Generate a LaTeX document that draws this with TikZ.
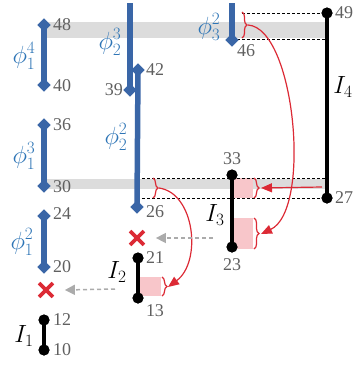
\documentclass[tikz,border=0pt]{standalone}
\usepackage{fontspec}
\newfontfamily\numfont{Liberation Serif}
\usetikzlibrary{decorations.pathreplacing,arrows.meta,shapes.geometric,shapes.misc}
\definecolor{phiblue}{HTML}{3A66A7}
\definecolor{lblblue}{HTML}{2E75B6}
\definecolor{numgray}{HTML}{606060}
\definecolor{bandgray}{HTML}{DCDCDC}
\definecolor{pinkc}{HTML}{F8C6CA}
\definecolor{redc}{HTML}{DC2A35}
\definecolor{arrgray}{HTML}{ABABAB}
\begin{document}
\begin{tikzpicture}[x=1pt,y=-1pt,
  bluebar/.style={draw=phiblue,line width=5.5pt},
  dia/.style={diamond,fill=phiblue,inner sep=0pt,minimum size=13pt},
  dot/.style={circle,fill=black,inner sep=0pt,minimum size=11pt},
  blackbar/.style={draw=black,line width=3.5pt},
  num/.style={text=numgray,font=\numfont\fontsize{18}{20}\selectfont,inner sep=1pt},
  philab/.style={text=lblblue,font=\fontsize{24}{26}\selectfont,inner sep=0pt},
  ilab/.style={font=\fontsize{23}{25}\selectfont,inner sep=0pt},
  dline/.style={draw=black,line width=0.7pt,dash pattern=on 3pt off 2pt},
  band/.style={fill=bandgray},
  pinkbox/.style={fill=pinkc},
  rbrace/.style={draw=redc,line width=1.2pt,decorate,decoration={brace,amplitude=5pt}},
  redarrow/.style={draw=redc,line width=1.2pt,-{Triangle[length=11pt,width=9pt]}},
  grayarrow/.style={draw=arrgray,line width=1.5pt,dash pattern=on 4pt off 3pt,-{Triangle[length=10pt,width=10pt]}},
  xmark/.style={cross out,draw=redc,line width=3.8pt,minimum size=10pt,inner sep=0pt}]
\useasboundingbox (0,0) rectangle (356,365);
% bands
\fill[band] (44,22) rectangle (327,38);
\fill[band] (44,179) rectangle (327,189);
% pink boxes
\fill[pinkbox] (234,178) rectangle (253,198);
\fill[pinkbox] (234,218) rectangle (253,249);
\fill[pinkbox] (140,277) rectangle (161,296);
% coordinates
\coordinate (p23top) at (130,3);
\coordinate (p32top) at (232,3);
\coordinate (d49s) at (242,13);
\coordinate (d46s) at (237,39);
\coordinate (d46e) at (327,39);
\coordinate (d33s) at (142,178);
\coordinate (d33e) at (327,178);
\coordinate (d27s) at (142,198);
% nodes
\node[dia] (a48) at (44,25) {};
\node[dia] (a40) at (44,85) {};
\node[dia] (a36) at (44,125) {};
\node[dia] (a30) at (44,186) {};
\node[dia] (a24) at (44,216) {};
\node[dia] (a20) at (44,267) {};
\node[dia] (b39) at (130,90) {};
\node[dia] (b42) at (138,70) {};
\node[dia] (b26) at (137,207) {};
\node[dia] (c46) at (232,40) {};
\node[dot] (i49) at (327,13) {};
\node[dot] (i27) at (327,198) {};
\node[dot] (i33) at (232,175) {};
\node[dot] (i23) at (232,247) {};
\node[dot] (i21) at (138,258) {};
\node[dot] (i13) at (138,298) {};
\node[dot] (i12) at (44,320) {};
\node[dot] (i10) at (44,350) {};
% dashed lines
\draw[dline] (d49s) -- (i49);
\draw[dline] (d46s) -- (d46e);
\draw[dline] (d33s) -- (d33e);
\draw[dline] (d27s) -- (i27);
% bars
\draw[bluebar] (a48.center) -- (a40.center);
\draw[bluebar] (a36.center) -- (a30.center);
\draw[bluebar] (a24.center) -- (a20.center);
\draw[bluebar] (p23top) -- (b39.center);
\draw[bluebar] (b42.center) -- (b26.center);
\draw[bluebar] (p32top) -- (c46.center);
\draw[blackbar] (i49.center) -- (i27.center);
\draw[blackbar] (i33.center) -- (i23.center);
\draw[blackbar] (i21.center) -- (i13.center);
\draw[blackbar] (i12.center) -- (i10.center);
% redraw markers on top
\foreach \n in {a48,a40,a36,a30,a24,a20,b39,b42,b26,c46}{\fill[phiblue] (\n.north) -- (\n.east) -- (\n.south) -- (\n.west) -- cycle;}
\foreach \n in {i49,i27,i33,i23,i21,i13,i12,i10}{\fill[black] (\n) circle (5.5pt);}
% braces
\coordinate (br1a) at (242,12); \coordinate (br1b) at (242,38);
\coordinate (br2a) at (254,178); \coordinate (br2b) at (254,198);
\coordinate (br3a) at (254,218); \coordinate (br3b) at (254,249);
\coordinate (br4a) at (162,277); \coordinate (br4b) at (162,296);
\coordinate (br5a) at (153,178); \coordinate (br5b) at (153,198);
\draw[rbrace] (br1a) -- (br1b);
\draw[rbrace] (br2a) -- (br2b);
\draw[rbrace] (br3a) -- (br3b);
\draw[rbrace] (br4a) -- (br4b);
\draw[rbrace] (br5a) -- (br5b);
\coordinate (t1) at (248,25);
\coordinate (t2) at (261,188);
\coordinate (t3) at (261,234);
\coordinate (t4) at (168,287);
\coordinate (t5) at (159,188);
\coordinate (ra) at (322,187);
% red arrows
\draw[redarrow] (t1) .. controls (295,28) and (312,210) .. (t3);
\draw[redarrow] (t5) .. controls (195,193) and (202,262) .. (t4);
\draw[redarrow] (ra) -- (t2);
% x marks and gray arrows
\node[xmark] (x1) at (46,290) {};
\node[xmark] (x2) at (137,238) {};
\coordinate (g1) at (115,289);
\coordinate (g2) at (213,238);
\draw[grayarrow] (g1) -- ([xshift=12pt]x1.east);
\draw[grayarrow] (g2) -- ([xshift=12pt]x2.east);
% number labels
\node[num,anchor=west] (l48) at (52,25) {48};
\node[num,anchor=west] (l40) at (52,86) {40};
\node[num,anchor=west] (l36) at (52,125) {36};
\node[num,anchor=west] (l30) at (52,187) {30};
\node[num,anchor=west] (l24) at (52,214) {24};
\node[num,anchor=west] (l20) at (52,267) {20};
\node[num,anchor=west] (l12) at (52,320) {12};
\node[num,anchor=west] (l10) at (52,350) {10};
\node[num,anchor=east] (l39) at (124,90) {39};
\node[num,anchor=west] (l42) at (145,70) {42};
\node[num,anchor=west] (l26) at (145,212) {26};
\node[num] (l46) at (246,51) {46};
\node[num,anchor=west] (l49) at (334,13) {49};
\node[num,anchor=west] (l27) at (334,198) {27};
\node[num] (l33) at (232,159) {33};
\node[num] (l23) at (232,265) {23};
\node[num,anchor=west] (l21) at (145,258) {21};
\node[num] (l13) at (155,311) {13};
% phi labels
\node[philab] (f14) at (24,56) {$\phi_1^4$};
\node[philab] (f13) at (24,156) {$\phi_1^3$};
\node[philab] (f12) at (22,242) {$\phi_1^2$};
\node[philab] (f23) at (110,42) {$\phi_2^3$};
\node[philab] (f22) at (116,137) {$\phi_2^2$};
\node[philab] (f32) at (209,27) {$\phi_3^2$};
% I labels
\node[ilab] (I1) at (24,336) {$I_1$};
\node[ilab] (I2) at (117,272) {$I_2$};
\node[ilab] (I3) at (215,215) {$I_3$};
\node[ilab] (I4) at (343,87) {$I_4$};
\end{tikzpicture}
\end{document}
